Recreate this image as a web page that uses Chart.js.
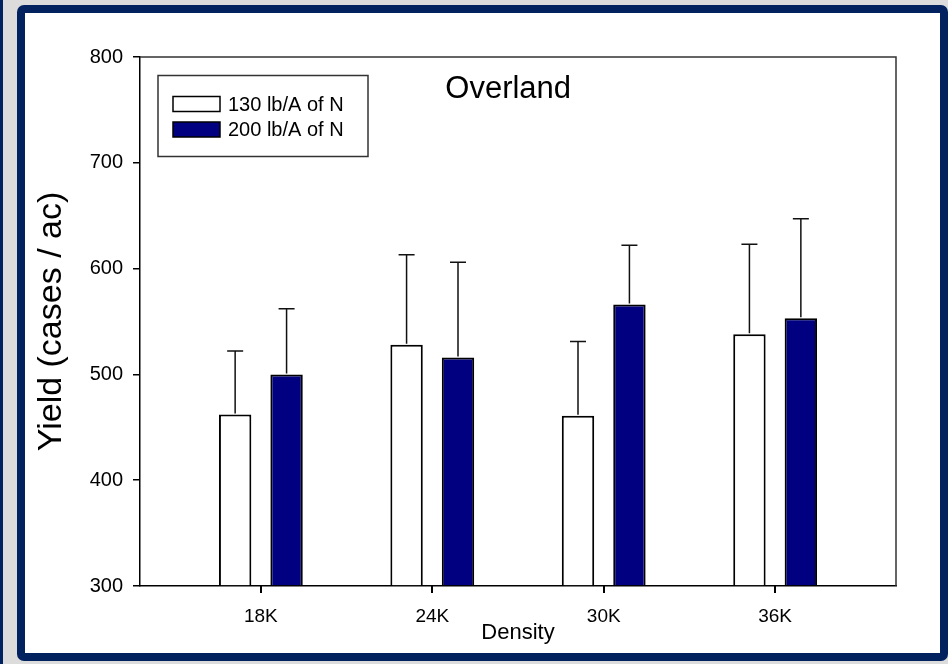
<!DOCTYPE html>
<html><head><meta charset="utf-8">
<script src="https://cdn.jsdelivr.net/npm/chart.js@4.4.1/dist/chart.umd.min.js"></script>
<style>html,body{margin:0;padding:0;background:#dcdcdc;overflow:hidden}#wrap{width:948px;height:664px;position:relative}canvas{display:block}</style>
</head><body><div id="wrap"><canvas id="c" width="948" height="664"></canvas></div>
<script>
const categories = ['18K', '24K', '30K', '36K'];
const seriesLabels = ['130 lb/A of N', '200 lb/A of N'];
const yield130 = [462, 528, 461, 538];
const yield200 = [500, 516, 566, 553];
const err130 = [60, 85, 70, 85];
const err200 = [62, 90, 56, 94];
const yTicks = [300, 400, 500, 600, 700, 800];
const chartTitle = 'Overland';
const xTitle = 'Density';
const yTitle = 'Yield (cases / ac)';

const FAM = '"Liberation Sans", Arial, sans-serif';
const NAVY_FRAME = '#02215f';
const NAVY_BAR = '#000080';

function mkDs(label, vals, errs, bg) {
  return {
    label: label,
    data: vals.map((v, i) => ({ x: i, y: v })),
    errors: errs,
    backgroundColor: bg,
    borderColor: '#000',
    borderWidth: 2,
    borderSkipped: 'bottom',
    base: 300,
    categoryPercentage: 0.6,
    barPercentage: 0.63
  };
}

const framePlugin = {
  id: 'frame',
  beforeDraw(chart) {
    const c = chart.ctx, W = chart.width, H = chart.height;
    c.save();
    c.fillStyle = '#dcdcdc'; c.fillRect(0, 0, W, H);
    c.fillStyle = NAVY_FRAME; c.fillRect(0, 0, 3, H);
    c.beginPath();
    if (c.roundRect) c.roundRect(17, 5, W - 17, H - 8, 7); else c.rect(17, 5, W - 17, H - 8);
    c.fill();
    c.fillStyle = '#fff'; c.fillRect(25, 13, W - 33, H - 24);
    c.restore();
  },
  afterDraw(chart) {
    const c = chart.ctx, a = chart.chartArea, xs = chart.scales.x;
    c.save();
    c.strokeStyle = '#333'; c.lineWidth = 1.5;
    c.beginPath(); c.moveTo(a.left, a.top); c.lineTo(a.right, a.top); c.lineTo(a.right, a.bottom); c.stroke();
    // x tick marks at category centres (positions from the x scale)
    c.fillStyle = '#000';
    categories.forEach((_, i) => {
      const px = xs.getPixelForValue(i);
      c.fillRect(Math.round(px) - 1, Math.round(a.bottom), 2, 7);
    });
    c.fillStyle = '#000'; c.font = '31px ' + FAM; c.textAlign = 'center'; c.textBaseline = 'middle';
    c.fillText(chartTitle, a.left + (a.right - a.left) * 0.487, a.top + 32);
    const lx = a.left + 18, ly = a.top + 18.5, lw = 210, lh = 81;
    c.fillStyle = '#fff'; c.fillRect(lx, ly, lw, lh);
    c.strokeStyle = '#333'; c.lineWidth = 1.5; c.strokeRect(lx, ly, lw, lh);
    c.font = '20px ' + FAM; c.textAlign = 'left';
    chart.data.datasets.forEach((ds, k) => {
      const cy = ly + 28.5 + k * 25.5;
      c.fillStyle = ds.backgroundColor; c.fillRect(lx + 15, cy - 7.5, 47, 15);
      c.strokeStyle = '#000'; c.lineWidth = 1.5; c.strokeRect(lx + 15, cy - 7.5, 47, 15);
      c.fillStyle = '#000'; c.fillText(ds.label, lx + 70, cy + 1);
    });
    c.restore();
  },
  afterDatasetsDraw(chart) {
    const c = chart.ctx, ys = chart.scales.y;
    c.save();
    c.strokeStyle = '#111'; c.lineWidth = 1.5;
    chart.data.datasets.forEach((ds, d) => {
      const meta = chart.getDatasetMeta(d);
      meta.data.forEach((bar, i) => {
        const v = ds.data[i].y, e = ds.errors[i];
        const top = ys.getPixelForValue(v + e);
        c.beginPath();
        c.moveTo(bar.x, bar.y - 1); c.lineTo(bar.x, top);
        c.moveTo(bar.x - 8, top); c.lineTo(bar.x + 8, top);
        c.stroke();
      });
    });
    c.restore();
  }
};

new Chart(document.getElementById('c'), {
  type: 'bar',
  data: {
    datasets: [
      mkDs(seriesLabels[0], yield130, err130, '#ffffff'),
      mkDs(seriesLabels[1], yield200, err200, NAVY_BAR)
    ]
  },
  options: {
    responsive: false,
    animation: false,
    devicePixelRatio: 1,
    layout: { padding: { top: 57, right: 52, bottom: 0, left: 0 } },
    plugins: { legend: { display: false }, tooltip: { enabled: false } },
    scales: {
      x: {
        type: 'linear',
        min: -0.705, max: 3.705,
        offset: false,
        afterBuildTicks: s => { s.ticks = categories.map((_, i) => ({ value: i })); },
        afterFit: s => { s.height = 78; },
        ticks: { callback: v => categories[v], font: { family: FAM, size: 19 }, color: '#000', padding: 11, maxRotation: 0, autoSkip: false },
        grid: { display: false },
        border: { display: true, color: '#000', width: 1.5 },
        title: { display: true, text: xTitle, color: '#000', font: { family: FAM, size: 22 }, padding: { top: 0, bottom: 18 } }
      },
      y: {
        min: 300, max: 800,
        afterBuildTicks: s => { s.ticks = yTicks.map(v => ({ value: v })); },
        afterFit: s => { s.width = 140; },
        ticks: { font: { family: FAM, size: 20 }, color: '#000', padding: 10 },
        grid: { display: true, drawOnChartArea: false, drawTicks: true, tickLength: 7, color: '#000', lineWidth: 1.5 },
        border: { display: true, color: '#000', width: 1.5 },
        title: { display: true, text: yTitle, color: '#000', font: { family: FAM, size: 34 }, padding: { top: 31, bottom: 0 } }
      }
    }
  },
  plugins: [framePlugin]
});
</script></body></html>
